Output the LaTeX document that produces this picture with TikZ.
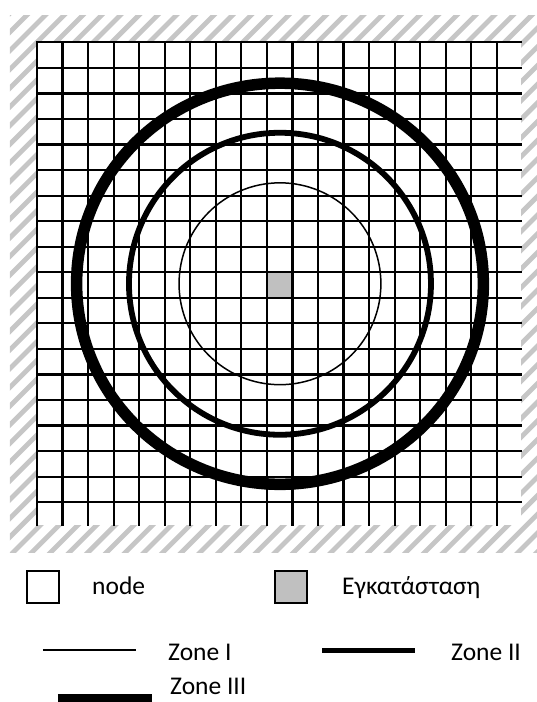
\documentclass[tikz,border=0pt]{standalone}
\usepackage{fontspec}
\setmainfont{Carlito}
\usetikzlibrary{positioning}
\definecolor{cellgray}{HTML}{C0C0C0}
\definecolor{hatchgray}{HTML}{C6C6C6}
\tikzset{gridline/.style={line width=2.2pt,line cap=rect},hatch/.style={hatchgray,line width=4.8pt},legbox/.style={draw,line width=1.4pt,minimum size=32pt,inner sep=0pt},legtext/.style={font=\fontsize{25.5}{30}\selectfont,inner sep=0pt,anchor=base west},zonei/.style={line width=1.5pt},zoneii/.style={line width=5.8pt},zoneiii/.style={line width=11.5pt}}

\begin{document}
\begin{tikzpicture}[x=25.55pt,y=25.55pt]
\useasboundingbox (-1.448,1.656) rectangle (19.570,-25.820);
% hatched frame round the grid
\begin{scope}
\clip (-1.057,1.068) rectangle (19.57,-19.95);
\foreach \k in {-5,...,56}{\draw[hatch] ({\k*0.732-25},-25) -- ++(30,30);}
\end{scope}
\fill[white] (0,0) rectangle (18.94,-18.9);
\fill[cellgray] (9,-9) rectangle (10,-10);
\foreach \i in {0,...,18}{\draw[gridline] (\i,0) -- (\i,-18.9);\draw[gridline] (0,-\i) -- (18.94,-\i);}
% zones round the site
\coordinate (site) at (9.51,-9.45);
\draw[zonei] (site) circle[radius=3.95];
\draw[zoneii] (site) circle[radius=5.91];
\draw[zoneiii] (site) ellipse[x radius=7.96,y radius=7.85];
% legend
\node[legbox] (nodebox) at (0.235,-21.32) {};
\node[legtext] (nodelbl) at (2.153,-21.63) {node};
\node[legbox,fill=cellgray] (sitebox) at (9.941,-21.32) {};
\node[legtext] (sitelbl) at (11.937,-21.63) {Εγκατάσταση};
\coordinate (zi-a) at (0.235,-23.78);\coordinate (zi-b) at (3.875,-23.78);
\draw[zonei] (zi-a) -- (zi-b);
\node[legtext] (zilbl) at (5.127,-24.21) {Zone I};
\coordinate (zii-a) at (11.155,-23.82);\coordinate (zii-b) at (14.795,-23.82);
\draw[line width=5pt] (zii-a) -- (zii-b);
\node[legtext] (ziilbl) at (16.204,-24.21) {Zone II};
\coordinate (ziii-a) at (0.822,-25.66);\coordinate (ziii-b) at (4.501,-25.66);
\draw[line width=8pt] (ziii-a) -- (ziii-b);
\node[legtext] (ziiilbl) at (5.205,-25.52) {Zone III};
\end{tikzpicture}
\end{document}
